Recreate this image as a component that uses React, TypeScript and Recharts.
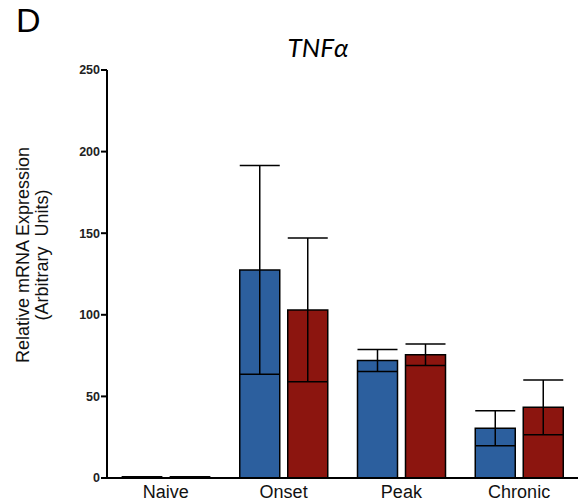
import React from 'react';
import { BarChart, Bar, XAxis, YAxis, ErrorBar } from 'recharts';

const categories = ['Naive', 'Onset', 'Peak', 'Chronic'];
const seriesA = [0.5, 127.5, 72, 30.5];
const seriesAErr = [0.3, 64, 6.7, 10.7];
const seriesB = [0.5, 103, 75.5, 43.3];
const seriesBErr = [0.3, 44, 6.6, 16.8];
const yTicks = [0, 50, 100, 150, 200, 250];

const data = categories.map((c, i) => ({
  name: c,
  a: seriesA[i],
  aErr: seriesAErr[i],
  b: seriesB[i],
  bErr: seriesBErr[i],
}));

const FONT = '"Liberation Sans", Arial, sans-serif';

export default function App() {
  return (
    <div style={{ position: 'absolute', left: 0, top: 0, width: 586, height: 504, background: '#fff' }}>
      <div style={{ position: 'absolute', left: 16, top: 0, fontFamily: FONT, fontSize: 34, lineHeight: '40px', color: '#000' }}>D</div>
      <div
        style={{
          position: 'absolute',
          left: 0,
          width: 636,
          top: 31,
          textAlign: 'center',
          fontFamily: 'Lato, "Open Sans", sans-serif',
          fontStyle: 'italic',
          fontSize: 26,
          color: '#000',
        }}
      >
        TNFα
      </div>
      <div
        style={{
          position: 'absolute',
          left: 33,
          top: 255,
          transform: 'translate(-50%, -50%) rotate(-90deg)',
          fontFamily: FONT,
          fontSize: 18,
          lineHeight: '19px',
          textAlign: 'center',
          whiteSpace: 'nowrap',
          color: '#111',
        }}
      >
        Relative mRNA Expression
        <br />
        (Arbitrary&nbsp; Units)
      </div>
      <BarChart
        width={586}
        height={504}
        data={data}
        margin={{ top: 70, right: 8, bottom: 0, left: 47 }}
        barGap={8}
        barCategoryGap={15}
        style={{ position: 'absolute', left: 0, top: 0 }}
      >
        <XAxis
          dataKey="name"
          axisLine={{ stroke: '#000', strokeWidth: 2 }}
          tickLine={false}
          tickSize={0}
          tickMargin={7}
          height={26}
          tick={{ fontFamily: FONT, fontSize: 18, fill: '#111' }}
        />
        <YAxis
          width={60}
          domain={[0, 250]}
          ticks={yTicks}
          interval={0}
          axisLine={{ stroke: '#000', strokeWidth: 2 }}
          tickLine={{ stroke: '#000', strokeWidth: 2 }}
          tickSize={6}
          tickMargin={1}
          tick={{ fontFamily: FONT, fontSize: 12.5, fontWeight: 'bold', fill: '#222' }}
        />
        <Bar dataKey="a" fill="#2C5F9E" stroke="#000" strokeWidth={1.5} barSize={40} isAnimationActive={false}>
          <ErrorBar dataKey="aErr" width={20} stroke="#000" strokeWidth={1.5} direction="y" />
        </Bar>
        <Bar dataKey="b" fill="#8C150F" stroke="#000" strokeWidth={1.5} barSize={40} isAnimationActive={false}>
          <ErrorBar dataKey="bErr" width={20} stroke="#000" strokeWidth={1.5} direction="y" />
        </Bar>
      </BarChart>
    </div>
  );
}
